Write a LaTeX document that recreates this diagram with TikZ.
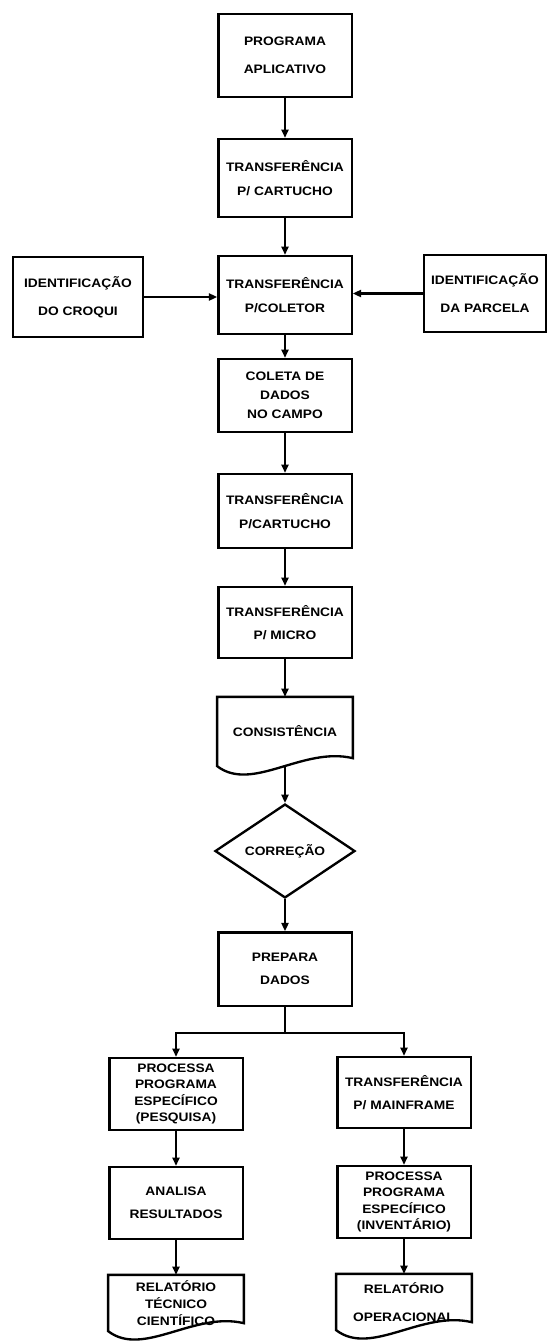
\documentclass[tikz,border=0pt]{standalone}
\usepackage{fontspec}
\usepackage{tikz}
\usetikzlibrary{shapes.geometric,arrows.meta}
\newfontfamily\flowfont[FakeStretch=1.12]{Liberation Sans}
\newcommand{\docoutline}[1]{%
  \draw (#1.south west) -- (#1.north west) -- (#1.north east) -- ([yshift=0.24cm]#1.south east)
    .. controls ([xshift=-1.5cm,yshift=0.6cm]#1.south east) and ([xshift=1.05cm,yshift=-0.8cm]#1.south west) .. (#1.south west) -- cycle;}

\begin{document}
\begin{tikzpicture}[x=0.03cm, y=-0.03cm, line width=2pt, >={Triangle[length=7pt,width=6pt]},
    every node/.style={font=\flowfont\bfseries\fontsize{10.5}{12}\selectfont, align=center, inner sep=0pt},
    box/.style={draw, rectangle, minimum width=4cm, minimum height=2.2cm},
    docbox/.style={rectangle, minimum width=4cm, minimum height=2.01cm},
    decision/.style={draw, diamond, minimum width=4.2cm, minimum height=2.64cm}]
   \useasboundingbox (0,0) rectangle (547,1341);

   % Main column
   \node[box, minimum height=2.49cm] (prog) at (285,55.5) {PROGRAMA\\[12pt]APLICATIVO};
   \node[box, minimum height=2.34cm] (cartA) at (285,178) {TRANSFERÊNCIA\\[8pt]P/ CARTUCHO};
   \node[box, minimum height=2.34cm] (coletor) at (285,295) {TRANSFERÊNCIA\\[8pt]P/COLETOR};
   \node[box, minimum height=2.19cm] (coleta) at (285,395.5) {COLETA DE\\[4pt]DADOS\\[4pt]NO CAMPO};
   \node[box, minimum height=2.22cm] (cartB) at (285,511) {TRANSFERÊNCIA\\[8pt]P/CARTUCHO};
   \node[box, minimum height=2.13cm] (micro) at (285,622.5) {TRANSFERÊNCIA\\[8pt]P/ MICRO};
   \node[docbox] (consist) at (285,731.5) {CONSISTÊNCIA};
   \node[decision] (corr) at (285,851) {CORREÇÃO};
   \node[box] (prepara) at (285,969) {PREPARA\\[8pt]DADOS};

   % Side inputs
   \node[box, minimum width=3.9cm, minimum height=2.4cm] (croqui) at (78,297) {IDENTIFICAÇÃO\\[12pt]DO CROQUI};
   \node[box, minimum width=3.66cm, minimum height=2.31cm] (parcela) at (485,293.5) {IDENTIFICAÇÃO\\[12pt]DA PARCELA};

   % Two branches
   \node[box, minimum height=2.16cm] (pesq) at (176,1094) {PROCESSA\\[2pt]PROGRAMA\\[2pt]ESPECÍFICO\\[2pt](PESQUISA)};
   \node[box, minimum height=2.16cm] (analisa) at (176,1203) {ANALISA\\[8pt]RESULTADOS};
   \node[docbox, minimum height=1.62cm] (reltec) at (176,1303) {RELATÓRIO\\[2.5pt]TÉCNICO\\[2.5pt]CIENTÍFICO};
   \node[box, minimum height=2.13cm] (mainfr) at (404,1092.5) {TRANSFERÊNCIA\\[8pt]P/ MAINFRAME};
   \node[box, minimum height=2.16cm] (invent) at (404,1202) {PROCESSA\\[2pt]PROGRAMA\\[2pt]ESPECÍFICO\\[2pt](INVENTÁRIO)};
   \node[docbox, minimum height=1.62cm] (relop) at (404,1302) {RELATÓRIO\\[12pt]OPERACIONAL};

   % Document outlines
   \docoutline{consist}
   \docoutline{reltec}
   \docoutline{relop}

   % Connectors
   \draw[->] (prog) -- (cartA);
   \draw[->] (cartA) -- (coletor);
   \draw[->] (croqui.east) -- (croqui.east -| coletor.west);
   \draw[->] (parcela.west) -- (parcela.west -| coletor.east);
   \draw[->] (coletor) -- (coleta);
   \draw[->] (coleta) -- (cartB);
   \draw[->] (cartB) -- (micro);
   \draw[->] (micro) -- (consist);
   \draw[->] (consist.south) -- (corr.north);
   \draw[->] (corr) -- (prepara);
   \coordinate (split) at (285,1033);
   \draw (prepara.south) -- (split);
   \draw[->] (split) -| (pesq.north);
   \draw[->] (split) -| (mainfr.north);
   \draw[->] (pesq) -- (analisa);
   \draw[->] (analisa) -- (reltec);
   \draw[->] (mainfr) -- (invent);
   \draw[->] (invent) -- (relop);
\end{tikzpicture}
\end{document}
